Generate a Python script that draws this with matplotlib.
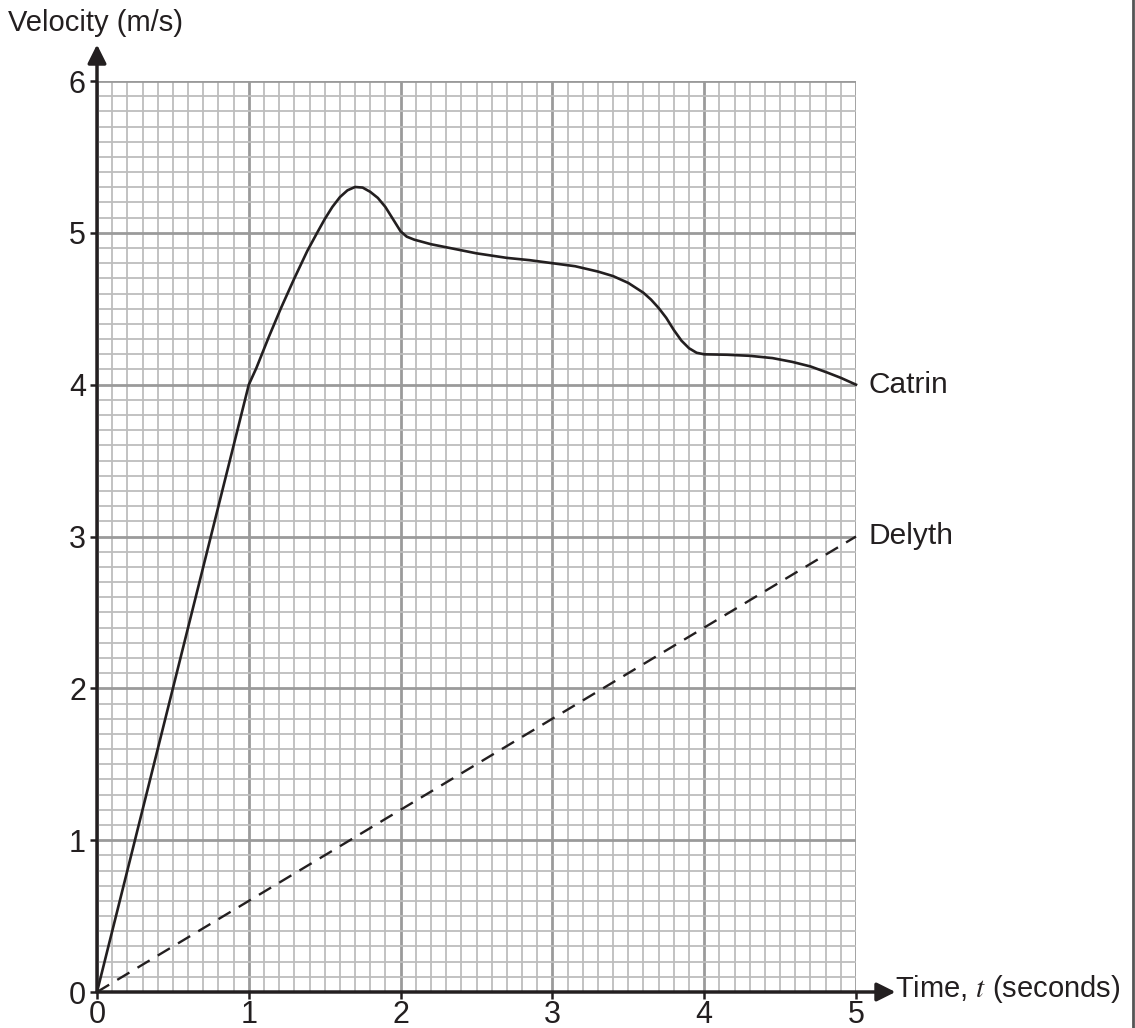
import numpy as np
import matplotlib
matplotlib.use("Agg")
import matplotlib.pyplot as plt
from matplotlib.lines import Line2D
from matplotlib.ticker import MultipleLocator

plt.rcParams['font.family'] = ['Liberation Sans', 'DejaVu Sans']
plt.rcParams['mathtext.fontset'] = 'stix'

# values
catrin_t = [0.0, 0.5, 1.0, 1.05, 1.13, 1.21, 1.3, 1.385, 1.45, 1.5, 1.55, 1.6,
            1.65, 1.7, 1.75, 1.8, 1.85, 1.9, 1.95, 2.0, 2.04, 2.09, 2.2, 2.35,
            2.5, 2.7, 2.85, 3.0, 3.15, 3.3, 3.4, 3.5, 3.6, 3.65, 3.7, 3.75,
            3.8, 3.85, 3.9, 3.95, 4.0, 4.15, 4.3, 4.45, 4.58, 4.7, 4.81,
            4.9, 5.0]
catrin_v = [0.0, 2.0, 4.0, 4.11, 4.31, 4.5, 4.7, 4.88, 5.0, 5.09, 5.17, 5.235,
            5.28, 5.302, 5.298, 5.27, 5.23, 5.17, 5.09, 5.01, 4.975, 4.955,
            4.925, 4.895, 4.865, 4.835, 4.82, 4.80, 4.78, 4.745, 4.715, 4.67,
            4.605, 4.56, 4.505, 4.44, 4.36, 4.29, 4.24, 4.21, 4.20, 4.197,
            4.19, 4.175, 4.15, 4.12, 4.08, 4.045, 4.0]

delyth_t = [0, 5]
delyth_v = [0, 3]

x_ticks = [0, 1, 2, 3, 4, 5]
y_ticks = [0, 1, 2, 3, 4, 5, 6]

fig = plt.figure(figsize=(11.35, 10.28), dpi=100)
ax = fig.add_axes([97 / 1135, 1 - 992 / 1028, (856 - 97) / 1135, (992 - 81) / 1028])

ax.set_xlim(0, 5)
ax.set_ylim(0, 6)
ax.xaxis.set_minor_locator(MultipleLocator(0.1))
ax.yaxis.set_minor_locator(MultipleLocator(0.1))
ax.set_xticks(x_ticks)
ax.set_yticks(y_ticks)

# graph paper
ax.grid(which='minor', color='#bdbdbd', lw=1.3, zorder=0)
ax.grid(which='major', color='#9a9a9a', lw=2.0, zorder=0)
ax.set_axisbelow(True)
ax.tick_params(which='minor', length=0)
ax.tick_params(which='major', direction='out', length=5, width=1.8,
               color='#231f20', labelsize=22, labelcolor='#231f20')
ax.tick_params(axis='x', pad=1)
ax.tick_params(axis='y', pad=3)

for s in ax.spines.values():
    s.set_visible(False)

# axes with arrows
ax.annotate("", xy=(0, 6.24), xytext=(0, 0), annotation_clip=False,
            arrowprops=dict(arrowstyle='-|>', lw=2.5, color='#231f20',
                            mutation_scale=28, shrinkA=0, shrinkB=0))
ax.annotate("", xy=(5.26, 0), xytext=(0, 0), annotation_clip=False,
            arrowprops=dict(arrowstyle='-|>', lw=2.5, color='#231f20',
                            mutation_scale=28, shrinkA=0, shrinkB=0))

ax.plot(catrin_t, catrin_v, color='#231f20', lw=1.9, zorder=3,
        solid_joinstyle='round', clip_on=False)
ax.plot(delyth_t, delyth_v, color='#231f20', lw=1.7, dashes=(6, 4), zorder=3,
        clip_on=False)

ax.text(5.08, 4.0, "Catrin", fontsize=21.5, va='center', color='#231f20')
ax.text(5.08, 3.0, "Delyth", fontsize=21.5, va='center', color='#231f20')
ax.text(5.26, 0.02, "Time, $t$ (seconds)", fontsize=21, va='center',
        color='#231f20', clip_on=False)
fig.text(8 / 1135, 1 - 23 / 1028, "Velocity (m/s)", fontsize=21, va='center',
         color='#231f20')

# frame line on the right edge
fig.add_artist(Line2D([1133 / 1135, 1133 / 1135], [0, 1], color='#555555', lw=2,
                      transform=fig.transFigure))

plt.savefig("out.png", dpi=100)
